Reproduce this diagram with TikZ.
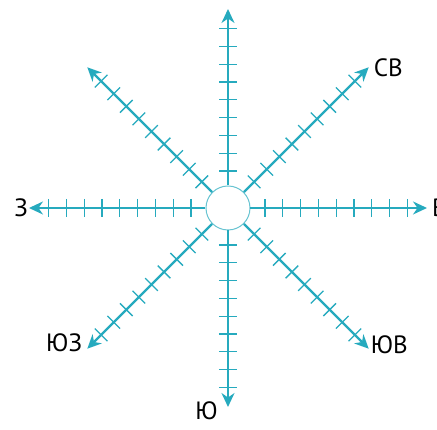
\documentclass[tikz,border=0pt]{standalone}
\usepackage{fontspec}
\setmainfont{PT Sans}
\usetikzlibrary{arrows.meta,positioning}
\definecolor{boussole}{RGB}{38,170,190}
\begin{document}
\begin{tikzpicture}[
    x=1pt, y=1pt,
    % Réglages des axes et des graduations
    axe/.style={draw=boussole, line width=2.2pt, -{Stealth[length=14pt,width=13pt]}},
    graduation/.style={draw=boussole, line width=1.3pt},
    etiquette/.style={font=\fontsize{25}{28}\selectfont, inner sep=0pt}
]
\useasboundingbox (-228,-222) rectangle (209,208);
% Centre
\node[circle, draw=boussole!70, line width=1pt, minimum size=44pt, inner sep=0pt] (centre) at (0,0) {};
% Les huit directions
\foreach \ang/\nom in {90/n, 45/ne, 0/e, -45/se, -90/s, -135/sw, 180/w, 135/nw} {
    \coordinate (\nom) at (\ang:199);
    \draw[axe] (centre.\ang) -- (\nom);
    \foreach \k in {0,...,8}
        \draw[graduation, rotate=\ang] ({37+17.8*\k},-9) -- ++(0,18);
}
% Etiquettes
\node[etiquette, right=5pt of ne] {СВ};
\node[etiquette, right=5pt of e] {В};
\node[etiquette, left=1pt of w] {З};
\node[etiquette, left=5pt of sw, yshift=6pt] {ЮЗ};
\node[etiquette, right=2pt of se, yshift=4pt] {ЮВ};
\node[etiquette, left=10pt of s, yshift=-4pt] {Ю};
\end{tikzpicture}
\end{document}
